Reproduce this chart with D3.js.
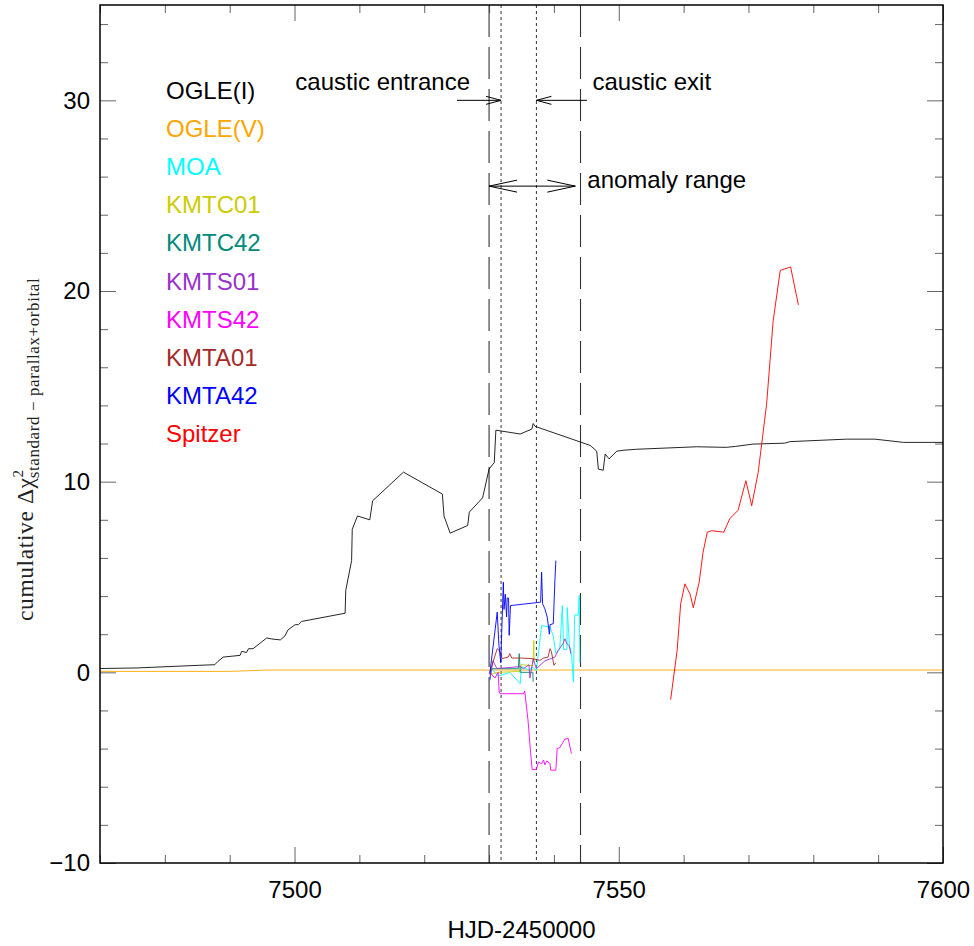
<!DOCTYPE html>
<html>
<head>
<meta charset="utf-8">
<script src="https://cdn.jsdelivr.net/npm/d3@7"></script>
<style>
body { margin: 0; background: #fff; }
</style>
</head>
<body>
<div id="chart"></div>
<script>
// series, [HJD-2450000, cumulative dchi2]
var seriesNames = ["OGLE(I)", "OGLE(V)", "MOA", "KMTC01", "KMTC42", "KMTS01", "KMTS42", "KMTA01", "KMTA42", "Spitzer"];
var seriesColors = ["#000000", "#ffa500", "#00ffff", "#cccc00", "#00897a", "#9932cc", "#ff00ff", "#a52a2a", "#0000ff", "#ff0000"];

var ogleI = [[7470,0.2],[7475.7,0.23],[7485.4,0.37],[7487.7,0.4],[7488.2,0.58],[7489.0,0.8],[7491.6,0.89],[7491.85,1.1],[7492.6,1.04],[7492.9,1.24],[7493.6,1.24],[7495.7,1.8],[7496.5,1.75],[7497.8,1.7],[7498.5,1.9],[7499.0,2.23],[7500.1,2.5],[7500.6,2.5],[7501.1,2.67],[7507.8,3.1],[7507.9,4.3],[7508.8,5.86],[7508.9,7.5],[7509.7,8.2],[7511.6,8.0],[7512.05,9.0],[7516.8,10.5],[7522.8,9.35],[7523.05,8.2],[7524.0,7.3],[7526.7,7.7],[7526.95,8.4],[7529.0,9.15],[7530.0,10.66],[7530.8,11.0],[7531.05,12.7],[7534.8,12.5],[7536.6,12.76],[7536.8,13.05],[7537.1,12.9],[7545.6,11.9],[7546.6,11.6],[7546.85,10.66],[7547.6,10.6],[7547.9,11.45],[7548.5,11.2],[7549.7,11.6],[7550.8,11.65],[7552.75,11.7],[7562.0,11.83],[7566.6,11.8],[7568.0,11.85],[7570.7,11.97],[7575.6,12.02],[7576.4,12.1],[7585.1,12.23],[7589.5,12.23],[7593.9,12.06],[7600,12.06]];
var ogleV = [[7470,0.05],[7490,0.05],[7496,0.12],[7600,0.12]];
var moa = [[7530.1,-0.4],[7530.4,0.2],[7531.4,-0.2],[7533.2,0.0],[7534.8,-0.6],[7535.0,0.3],[7536.3,0.1],[7536.6,0.3],[7537.3,0.1],[7538.1,2.45],[7539.4,2.37],[7539.9,1.9],[7540.3,1.0],[7540.9,1.2],[7541.3,3.5],[7541.5,1.2],[7542.0,1.2],[7542.05,3.4],[7542.4,1.4],[7542.7,1.0],[7543.0,-0.5],[7543.2,3.0],[7543.75,3.0],[7543.9,4.03],[7544.0,0.5]];
var kmtc01 = [[7530.1,-0.1],[7531.4,0.0],[7534.8,0.05],[7534.95,0.4],[7536.75,0.35],[7536.9,1.67],[7536.95,0.5]];
var kmtc42 = [[7530.1,-0.42],[7530.35,0.19],[7534.5,0.19],[7534.65,0.98],[7534.8,0.0],[7536.75,0.0],[7536.8,-0.5]];
var kmts01 = [[7530.1,-0.4],[7530.6,0.6],[7531.2,0.2],[7534.8,0.3],[7535.3,0.19],[7536.15,0.4],[7536.3,-0.3],[7536.8,0.7],[7537.3,0.2],[7538.6,0.6],[7540.15,0.8],[7540.65,1.15],[7541.4,1.5],[7541.7,1.76],[7542.0,1.5],[7542.35,1.4],[7542.6,0.98]];
var kmts42 = [[7530.1,0.0],[7530.9,-0.3],[7531.4,0.0],[7531.55,-1.03],[7531.7,-1.12],[7535.3,-1.12],[7535.5,-0.98],[7536.0,-2.5],[7536.4,-4.2],[7536.65,-5.1],[7537.3,-5.1],[7537.6,-4.7],[7538.1,-4.8],[7538.4,-4.6],[7538.6,-4.85],[7538.9,-4.65],[7539.4,-4.78],[7539.5,-5.13],[7540.3,-5.13],[7540.5,-4.0],[7540.9,-3.95],[7541.7,-3.5],[7542.2,-3.47],[7542.7,-4.26]];
var kmta01 = [[7530.1,0.0],[7531.26,1.24],[7531.7,1.1],[7532.0,0.72],[7532.95,0.8],[7533.2,0.98],[7533.5,0.75],[7534.8,0.75],[7536.6,0.72],[7537.85,0.63],[7538.4,0.75],[7539.1,0.8],[7539.4,1.24],[7539.6,1.1],[7540.0,0.37],[7540.3,0.5]];
var kmta42 = [[7530.1,-0.1],[7531.26,3.16],[7531.5,1.5],[7531.8,0.5],[7532.2,4.73],[7532.3,3.3],[7532.5,4.1],[7532.7,2.9],[7532.8,3.9],[7533.0,3.9],[7533.1,1.94],[7533.3,3.5],[7537.95,3.68],[7538.1,5.25],[7538.25,3.6],[7538.6,3.33],[7538.96,2.9],[7539.1,2.55],[7539.3,2.0],[7539.4,2.5],[7539.9,2.55],[7540.15,4.8],[7540.3,5.86]];
var spitzer = [[7558.0,-1.43],[7559.0,1.15],[7559.55,3.6],[7560.2,4.64],[7561.0,4.1],[7561.5,3.39],[7562.4,4.73],[7563.0,6.3],[7563.65,7.35],[7564.3,7.43],[7566.2,7.35],[7567.1,8.05],[7568.4,8.5],[7569.6,10.05],[7570.5,8.74],[7571.5,10.49],[7572.8,14.07],[7573.8,18.4],[7574.9,21.08],[7576.5,21.26],[7577.7,19.27]];
var seriesData = [ogleI, ogleV, moa, kmtc01, kmtc42, kmts01, kmts42, kmta01, kmta42, spitzer];

// marker lines: anomaly range (dashed) and caustic crossings (dotted)
var anomalyRange = [7530.0, 7544.1];
var causticTimes = [7531.85, 7537.3];

var xMajor = [7500, 7550, 7600];
var yMajor = [-10, 0, 10, 20, 30];

var margin = { top: 5, right: 31, bottom: 83, left: 100 };
var width = 974 - margin.left - margin.right;
var height = 946 - margin.top - margin.bottom;

var svg = d3.select("#chart")
    .append("svg")
    .attr("width", 974)
    .attr("height", 946);

var g = svg.append("g").attr("transform", "translate(" + margin.left + "," + margin.top + ")");

var x = d3.scaleLinear().domain([7470, 7600]).range([0, width]);
var y = d3.scaleLinear().domain([-10, 35]).range([height, 0]);

var fontSans = "'Liberation Sans', Arial, sans-serif";

// ticks, all pointing inwards
function styleAxis(sel) {
    sel.select(".domain").remove();
    sel.selectAll(".tick line").attr("stroke", "#666");
    sel.selectAll("text").attr("font-family", fontSans).attr("font-size", 24).attr("fill", "#000");
}

var xMinor = d3.range(7470, 7601, 10).filter(function (d) { return xMajor.indexOf(d) < 0; });
var yMinor = d3.range(-10, 35.1, 2).filter(function (d) { return yMajor.indexOf(d) < 0; });

g.append("g").attr("transform", "translate(0," + height + ")")
    .call(d3.axisBottom(x).tickValues(xMajor).tickSize(-16).tickPadding(18).tickFormat(d3.format("d")))
    .call(styleAxis);
g.append("g").attr("transform", "translate(0," + height + ")")
    .call(d3.axisBottom(x).tickValues(xMinor).tickSize(-8).tickFormat(""))
    .call(styleAxis);
g.append("g")
    .call(d3.axisTop(x).tickValues(xMajor).tickSize(-16).tickFormat(""))
    .call(styleAxis);
g.append("g")
    .call(d3.axisTop(x).tickValues(xMinor).tickSize(-8).tickFormat(""))
    .call(styleAxis);

g.append("g")
    .call(d3.axisLeft(y).tickValues(yMajor).tickSize(-16).tickPadding(10).tickFormat(d3.format("d")))
    .call(styleAxis);
g.append("g")
    .call(d3.axisLeft(y).tickValues(yMinor).tickSize(-8).tickFormat(""))
    .call(styleAxis);
g.append("g").attr("transform", "translate(" + width + ",0)")
    .call(d3.axisRight(y).tickValues(yMajor).tickSize(-16).tickFormat(""))
    .call(styleAxis);
g.append("g").attr("transform", "translate(" + width + ",0)")
    .call(d3.axisRight(y).tickValues(yMinor).tickSize(-8).tickFormat(""))
    .call(styleAxis);

// dashed / dotted vertical markers
g.selectAll(".range-line")
    .data(anomalyRange)
    .enter().append("line")
    .attr("x1", function (d) { return x(d); })
    .attr("x2", function (d) { return x(d); })
    .attr("y1", 0)
    .attr("y2", height)
    .attr("stroke", "#333")
    .attr("stroke-width", 1.1)
    .attr("stroke-dasharray", "32,10");

g.selectAll(".caustic-line")
    .data(causticTimes)
    .enter().append("line")
    .attr("x1", function (d) { return x(d); })
    .attr("x2", function (d) { return x(d); })
    .attr("y1", 0)
    .attr("y2", height)
    .attr("stroke", "#333")
    .attr("stroke-width", 1)
    .attr("stroke-dasharray", "3,3");

// data curves
var line = d3.line()
    .x(function (d) { return x(d[0]); })
    .y(function (d) { return y(d[1]); });

g.append("g")
    .selectAll("path")
    .data(seriesData)
    .enter().append("path")
    .attr("d", line)
    .attr("fill", "none")
    .attr("stroke", function (d, i) { return seriesColors[i]; })
    .attr("stroke-opacity", function (d, i) { return i == 0 ? 0.85 : 0.9; })
    .attr("stroke-width", 1);

// open arrows for the annotations
function arrow(x1, x2, yv, headLen, headHalf, both) {
    var a = g.append("g").attr("stroke", "#000").attr("stroke-width", 1).attr("fill", "none");
    a.append("line").attr("x1", x1).attr("x2", x2).attr("y1", yv).attr("y2", yv);
    var dir = x2 > x1 ? 1 : -1;
    a.append("path").attr("d", "M" + (x2 - dir * headLen) + "," + (yv - headHalf) + "L" + x2 + "," + yv + "L" + (x2 - dir * headLen) + "," + (yv + headHalf));
    if (both) {
        a.append("path").attr("d", "M" + (x1 + dir * headLen) + "," + (yv - headHalf) + "L" + x1 + "," + yv + "L" + (x1 + dir * headLen) + "," + (yv + headHalf));
    }
}

arrow(x(7525.05), x(causticTimes[0]), y(30), 15, 4, false);
arrow(x(7545.1), x(causticTimes[1]), y(30), 15, 4, false);
arrow(x(anomalyRange[0]), x(7543.3), y(25.5), 28, 6, true);

var notes = g.append("g").attr("font-family", fontSans).attr("font-size", 24).attr("fill", "#000");
notes.append("text").attr("x", x(causticTimes[0]) - 31).attr("y", y(30) - 10).attr("text-anchor", "end").text("caustic entrance");
notes.append("text").attr("x", x(causticTimes[1]) + 56).attr("y", y(30) - 10).text("caustic exit");
notes.append("text").attr("x", x(7543.3) + 12).attr("y", y(25.5) + 2).text("anomaly range");

// legend as coloured labels
g.append("g")
    .attr("font-family", fontSans)
    .attr("font-size", 24)
    .selectAll("text")
    .data(seriesNames)
    .enter().append("text")
    .attr("x", 66)
    .attr("y", function (d, i) { return 94 + i * 38.1; })
    .attr("fill", function (d, i) { return seriesColors[i]; })
    .text(function (d) { return d; });

// frame
g.append("rect")
    .attr("width", width)
    .attr("height", height)
    .attr("fill", "none")
    .attr("stroke", "#000")
    .attr("stroke-width", 1.5);

// axis titles
svg.append("text")
    .attr("x", margin.left + width / 2)
    .attr("y", 938)
    .attr("text-anchor", "middle")
    .attr("font-family", fontSans)
    .attr("font-size", 24)
    .text("HJD-2450000");

var ylab = svg.append("text")
    .attr("transform", "translate(33,621) rotate(-90)")
    .attr("font-family", "'Liberation Serif', 'DejaVu Serif', serif")
    .attr("font-size", 23.5)
    .attr("letter-spacing", 0.6)
    .attr("fill", "#222");
ylab.append("tspan").text("cumulative \u0394\u03c7");
ylab.append("tspan").attr("font-size", 15).attr("dy", -10).text("2");
ylab.append("tspan").attr("font-size", 17).attr("dx", -9).attr("dy", 16).text("standard \u2212 parallax+orbital");
</script>
</body>
</html>
